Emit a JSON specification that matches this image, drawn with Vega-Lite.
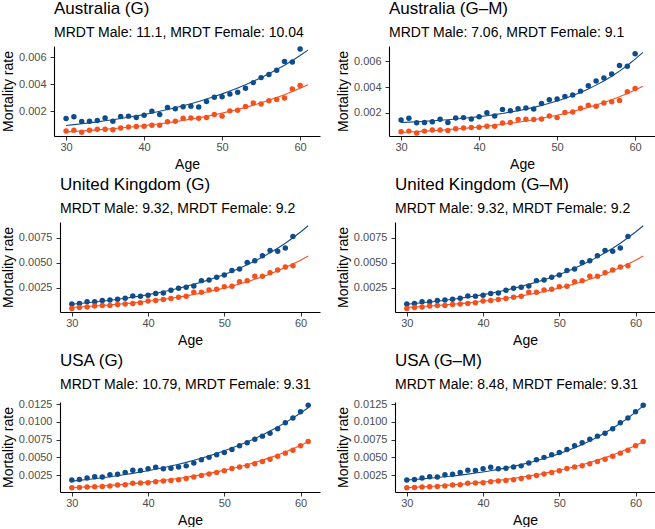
{
"$schema": "https://vega.github.io/schema/vega-lite/v6.json",
"padding": {"left": 1, "top": 0, "right": 0, "bottom": 0},
"background": "white",
"config": {
  "font": "Liberation Sans",
  "view": {"stroke": null},
  "axis": {"grid": false, "labelOverlap": false, "domainColor": "#000000", "domainWidth": 1.1, "tickColor": "#333333", "tickSize": 4, "tickWidth": 1, "labelColor": "#4D4D4D", "labelFontSize": 11, "titleFontSize": 14, "titleFontWeight": "normal", "titleColor": "#000000"},
  "axisX": {"labelPadding": 1, "titlePadding": 5},
  "axisY": {"labelPadding": 4, "titlePadding": 3, "tickCount": 10},
  "title": {"anchor": "start", "frame": "group", "fontSize": 17, "fontWeight": "normal", "color": "#000000", "subtitleFontSize": 14, "subtitleColor": "#000000", "subtitlePadding": 8, "offset": 5}
},
"datasets": {
  "obs": [
    {"c":"AUS","age":30,"Male":0.00145,"Female":0.00053},
    {"c":"AUS","age":31,"Male":0.00158,"Female":0.00058},
    {"c":"AUS","age":32,"Male":0.00123,"Female":0.00044},
    {"c":"AUS","age":33,"Male":0.00125,"Female":0.00058},
    {"c":"AUS","age":34,"Male":0.00130,"Female":0.00066},
    {"c":"AUS","age":35,"Male":0.00150,"Female":0.00066},
    {"c":"AUS","age":36,"Male":0.00125,"Female":0.00063},
    {"c":"AUS","age":37,"Male":0.00160,"Female":0.00076},
    {"c":"AUS","age":38,"Male":0.00163,"Female":0.00083},
    {"c":"AUS","age":39,"Male":0.00153,"Female":0.00086},
    {"c":"AUS","age":40,"Male":0.00170,"Female":0.00088},
    {"c":"AUS","age":41,"Male":0.00200,"Female":0.00096},
    {"c":"AUS","age":42,"Male":0.00175,"Female":0.00096},
    {"c":"AUS","age":43,"Male":0.00227,"Female":0.00121},
    {"c":"AUS","age":44,"Male":0.00217,"Female":0.00125},
    {"c":"AUS","age":45,"Male":0.00232,"Female":0.00148},
    {"c":"AUS","age":46,"Male":0.00237,"Female":0.00150},
    {"c":"AUS","age":47,"Male":0.00230,"Female":0.00148},
    {"c":"AUS","age":48,"Male":0.00272,"Female":0.00153},
    {"c":"AUS","age":49,"Male":0.00302,"Female":0.00175},
    {"c":"AUS","age":50,"Male":0.00307,"Female":0.00163},
    {"c":"AUS","age":51,"Male":0.00327,"Female":0.00202},
    {"c":"AUS","age":52,"Male":0.00339,"Female":0.00207},
    {"c":"AUS","age":53,"Male":0.00369,"Female":0.00235},
    {"c":"AUS","age":54,"Male":0.00411,"Female":0.00260},
    {"c":"AUS","age":55,"Male":0.00448,"Female":0.00252},
    {"c":"AUS","age":56,"Male":0.00471,"Female":0.00277},
    {"c":"AUS","age":57,"Male":0.00503,"Female":0.00287},
    {"c":"AUS","age":58,"Male":0.00568,"Female":0.00297},
    {"c":"AUS","age":59,"Male":0.00563,"Female":0.00364},
    {"c":"AUS","age":60,"Male":0.00660,"Female":0.00389},
    {"c":"UK","age":30,"Male":0.00088,"Female":0.00045},
    {"c":"UK","age":31,"Male":0.00094,"Female":0.00055},
    {"c":"UK","age":32,"Male":0.00111,"Female":0.00058},
    {"c":"UK","age":33,"Male":0.00111,"Female":0.00068},
    {"c":"UK","age":34,"Male":0.00124,"Female":0.00075},
    {"c":"UK","age":35,"Male":0.00128,"Female":0.00075},
    {"c":"UK","age":36,"Male":0.00137,"Female":0.00084},
    {"c":"UK","age":37,"Male":0.00147,"Female":0.00088},
    {"c":"UK","age":38,"Male":0.00170,"Female":0.00094},
    {"c":"UK","age":39,"Male":0.00167,"Female":0.00101},
    {"c":"UK","age":40,"Male":0.00177,"Female":0.00118},
    {"c":"UK","age":41,"Male":0.00194,"Female":0.00124},
    {"c":"UK","age":42,"Male":0.00200,"Female":0.00134},
    {"c":"UK","age":43,"Male":0.00227,"Female":0.00144},
    {"c":"UK","age":44,"Male":0.00247,"Female":0.00157},
    {"c":"UK","age":45,"Male":0.00257,"Female":0.00167},
    {"c":"UK","age":46,"Male":0.00270,"Female":0.00207},
    {"c":"UK","age":47,"Male":0.00323,"Female":0.00207},
    {"c":"UK","age":48,"Male":0.00329,"Female":0.00230},
    {"c":"UK","age":49,"Male":0.00356,"Female":0.00237},
    {"c":"UK","age":50,"Male":0.00379,"Female":0.00263},
    {"c":"UK","age":51,"Male":0.00425,"Female":0.00267},
    {"c":"UK","age":52,"Male":0.00439,"Female":0.00313},
    {"c":"UK","age":53,"Male":0.00505,"Female":0.00323},
    {"c":"UK","age":54,"Male":0.00521,"Female":0.00366},
    {"c":"UK","age":55,"Male":0.00571,"Female":0.00366},
    {"c":"UK","age":56,"Male":0.00624,"Female":0.00402},
    {"c":"UK","age":57,"Male":0.00617,"Female":0.00429},
    {"c":"UK","age":58,"Male":0.00650,"Female":0.00459},
    {"c":"UK","age":59,"Male":0.00766,"Female":0.00472},
    {"c":"USA","age":30,"Male":0.00180,"Female":0.00072},
    {"c":"USA","age":31,"Male":0.00188,"Female":0.00076},
    {"c":"USA","age":32,"Male":0.00210,"Female":0.00081},
    {"c":"USA","age":33,"Male":0.00226,"Female":0.00086},
    {"c":"USA","age":34,"Male":0.00222,"Female":0.00090},
    {"c":"USA","age":35,"Male":0.00255,"Female":0.00095},
    {"c":"USA","age":36,"Male":0.00262,"Female":0.00109},
    {"c":"USA","age":37,"Male":0.00288,"Female":0.00114},
    {"c":"USA","age":38,"Male":0.00318,"Female":0.00133},
    {"c":"USA","age":39,"Male":0.00316,"Female":0.00137},
    {"c":"USA","age":40,"Male":0.00340,"Female":0.00142},
    {"c":"USA","age":41,"Male":0.00362,"Female":0.00156},
    {"c":"USA","age":42,"Male":0.00340,"Female":0.00166},
    {"c":"USA","age":43,"Male":0.00345,"Female":0.00175},
    {"c":"USA","age":44,"Male":0.00365,"Female":0.00184},
    {"c":"USA","age":45,"Male":0.00380,"Female":0.00203},
    {"c":"USA","age":46,"Male":0.00420,"Female":0.00222},
    {"c":"USA","age":47,"Male":0.00465,"Female":0.00245},
    {"c":"USA","age":48,"Male":0.00500,"Female":0.00264},
    {"c":"USA","age":49,"Male":0.00536,"Female":0.00288},
    {"c":"USA","age":50,"Male":0.00570,"Female":0.00311},
    {"c":"USA","age":51,"Male":0.00610,"Female":0.00344},
    {"c":"USA","age":52,"Male":0.00665,"Female":0.00363},
    {"c":"USA","age":53,"Male":0.00705,"Female":0.00381},
    {"c":"USA","age":54,"Male":0.00755,"Female":0.00410},
    {"c":"USA","age":55,"Male":0.00800,"Female":0.00442},
    {"c":"USA","age":56,"Male":0.00840,"Female":0.00475},
    {"c":"USA","age":57,"Male":0.00905,"Female":0.00517},
    {"c":"USA","age":58,"Male":0.00990,"Female":0.00560},
    {"c":"USA","age":59,"Male":0.01055,"Female":0.00602},
    {"c":"USA","age":60,"Male":0.01145,"Female":0.00663},
    {"c":"USA","age":61,"Male":0.01235,"Female":0.00724}
  ],
  "fit": [
    {"c":"AUS","age":30,"mG":0.000940,"fG":0.000466,"mGM":0.001250,"fGM":0.000480},
    {"c":"AUS","age":31,"mG":0.001001,"fG":0.000499,"mGM":0.001278,"fGM":0.000510},
    {"c":"AUS","age":32,"mG":0.001065,"fG":0.000535,"mGM":0.001309,"fGM":0.000541},
    {"c":"AUS","age":33,"mG":0.001134,"fG":0.000573,"mGM":0.001344,"fGM":0.000576},
    {"c":"AUS","age":34,"mG":0.001207,"fG":0.000614,"mGM":0.001381,"fGM":0.000613},
    {"c":"AUS","age":35,"mG":0.001285,"fG":0.000658,"mGM":0.001423,"fGM":0.000653},
    {"c":"AUS","age":36,"mG":0.001367,"fG":0.000705,"mGM":0.001469,"fGM":0.000696},
    {"c":"AUS","age":37,"mG":0.001455,"fG":0.000755,"mGM":0.001520,"fGM":0.000742},
    {"c":"AUS","age":38,"mG":0.001549,"fG":0.000809,"mGM":0.001576,"fGM":0.000793},
    {"c":"AUS","age":39,"mG":0.001649,"fG":0.000867,"mGM":0.001638,"fGM":0.000847},
    {"c":"AUS","age":40,"mG":0.001755,"fG":0.000929,"mGM":0.001706,"fGM":0.000905},
    {"c":"AUS","age":41,"mG":0.001868,"fG":0.000995,"mGM":0.001781,"fGM":0.000969},
    {"c":"AUS","age":42,"mG":0.001989,"fG":0.001067,"mGM":0.001864,"fGM":0.001037},
    {"c":"AUS","age":43,"mG":0.002117,"fG":0.001143,"mGM":0.001956,"fGM":0.001110},
    {"c":"AUS","age":44,"mG":0.002253,"fG":0.001224,"mGM":0.002057,"fGM":0.001190},
    {"c":"AUS","age":45,"mG":0.002399,"fG":0.001312,"mGM":0.002168,"fGM":0.001275},
    {"c":"AUS","age":46,"mG":0.002553,"fG":0.001406,"mGM":0.002291,"fGM":0.001368},
    {"c":"AUS","age":47,"mG":0.002718,"fG":0.001506,"mGM":0.002426,"fGM":0.001468},
    {"c":"AUS","age":48,"mG":0.002893,"fG":0.001614,"mGM":0.002576,"fGM":0.001576},
    {"c":"AUS","age":49,"mG":0.003079,"fG":0.001729,"mGM":0.002741,"fGM":0.001692},
    {"c":"AUS","age":50,"mG":0.003278,"fG":0.001852,"mGM":0.002923,"fGM":0.001817},
    {"c":"AUS","age":51,"mG":0.003489,"fG":0.001985,"mGM":0.003124,"fGM":0.001953},
    {"c":"AUS","age":52,"mG":0.003714,"fG":0.002126,"mGM":0.003345,"fGM":0.002099},
    {"c":"AUS","age":53,"mG":0.003953,"fG":0.002278,"mGM":0.003590,"fGM":0.002257},
    {"c":"AUS","age":54,"mG":0.004208,"fG":0.002441,"mGM":0.003859,"fGM":0.002427},
    {"c":"AUS","age":55,"mG":0.004479,"fG":0.002616,"mGM":0.004157,"fGM":0.002611},
    {"c":"AUS","age":56,"mG":0.004768,"fG":0.002802,"mGM":0.004485,"fGM":0.002809},
    {"c":"AUS","age":57,"mG":0.005075,"fG":0.003003,"mGM":0.004847,"fGM":0.003023},
    {"c":"AUS","age":58,"mG":0.005402,"fG":0.003217,"mGM":0.005246,"fGM":0.003254},
    {"c":"AUS","age":59,"mG":0.005751,"fG":0.003447,"mGM":0.005687,"fGM":0.003503},
    {"c":"AUS","age":60,"mG":0.006121,"fG":0.003693,"mGM":0.006173,"fGM":0.003772},
    {"c":"AUS","age":61,"mG":0.006516,"fG":0.003957,"mGM":0.006709,"fGM":0.004062},
    {"c":"UK","age":30,"mG":0.000870,"fG":0.000550,"mGM":0.000870,"fGM":0.000550},
    {"c":"UK","age":31,"mG":0.000937,"fG":0.000593,"mGM":0.000937,"fGM":0.000593},
    {"c":"UK","age":32,"mG":0.001010,"fG":0.000639,"mGM":0.001010,"fGM":0.000639},
    {"c":"UK","age":33,"mG":0.001088,"fG":0.000690,"mGM":0.001088,"fGM":0.000690},
    {"c":"UK","age":34,"mG":0.001171,"fG":0.000744,"mGM":0.001171,"fGM":0.000744},
    {"c":"UK","age":35,"mG":0.001262,"fG":0.000802,"mGM":0.001262,"fGM":0.000802},
    {"c":"UK","age":36,"mG":0.001359,"fG":0.000865,"mGM":0.001359,"fGM":0.000865},
    {"c":"UK","age":37,"mG":0.001464,"fG":0.000932,"mGM":0.001464,"fGM":0.000932},
    {"c":"UK","age":38,"mG":0.001577,"fG":0.001005,"mGM":0.001577,"fGM":0.001005},
    {"c":"UK","age":39,"mG":0.001699,"fG":0.001084,"mGM":0.001699,"fGM":0.001084},
    {"c":"UK","age":40,"mG":0.001830,"fG":0.001169,"mGM":0.001830,"fGM":0.001169},
    {"c":"UK","age":41,"mG":0.001972,"fG":0.001260,"mGM":0.001972,"fGM":0.001260},
    {"c":"UK","age":42,"mG":0.002124,"fG":0.001359,"mGM":0.002124,"fGM":0.001359},
    {"c":"UK","age":43,"mG":0.002288,"fG":0.001466,"mGM":0.002288,"fGM":0.001466},
    {"c":"UK","age":44,"mG":0.002464,"fG":0.001580,"mGM":0.002464,"fGM":0.001580},
    {"c":"UK","age":45,"mG":0.002655,"fG":0.001704,"mGM":0.002655,"fGM":0.001704},
    {"c":"UK","age":46,"mG":0.002860,"fG":0.001838,"mGM":0.002860,"fGM":0.001838},
    {"c":"UK","age":47,"mG":0.003080,"fG":0.001981,"mGM":0.003080,"fGM":0.001981},
    {"c":"UK","age":48,"mG":0.003318,"fG":0.002137,"mGM":0.003318,"fGM":0.002137},
    {"c":"UK","age":49,"mG":0.003574,"fG":0.002304,"mGM":0.003574,"fGM":0.002304},
    {"c":"UK","age":50,"mG":0.003850,"fG":0.002484,"mGM":0.003850,"fGM":0.002484},
    {"c":"UK","age":51,"mG":0.004148,"fG":0.002679,"mGM":0.004148,"fGM":0.002679},
    {"c":"UK","age":52,"mG":0.004468,"fG":0.002889,"mGM":0.004468,"fGM":0.002889},
    {"c":"UK","age":53,"mG":0.004813,"fG":0.003115,"mGM":0.004813,"fGM":0.003115},
    {"c":"UK","age":54,"mG":0.005184,"fG":0.003359,"mGM":0.005184,"fGM":0.003359},
    {"c":"UK","age":55,"mG":0.005585,"fG":0.003622,"mGM":0.005585,"fGM":0.003622},
    {"c":"UK","age":56,"mG":0.006016,"fG":0.003905,"mGM":0.006016,"fGM":0.003905},
    {"c":"UK","age":57,"mG":0.006480,"fG":0.004211,"mGM":0.006480,"fGM":0.004211},
    {"c":"UK","age":58,"mG":0.006980,"fG":0.004541,"mGM":0.006980,"fGM":0.004541},
    {"c":"UK","age":59,"mG":0.007519,"fG":0.004896,"mGM":0.007519,"fGM":0.004896},
    {"c":"UK","age":60,"mG":0.008100,"fG":0.005280,"mGM":0.008100,"fGM":0.005280},
    {"c":"UK","age":61,"mG":0.008725,"fG":0.005693,"mGM":0.008725,"fGM":0.005693},
    {"c":"USA","age":30,"mG":0.001640,"fG":0.000716,"mGM":0.001800,"fGM":0.000716},
    {"c":"USA","age":31,"mG":0.001749,"fG":0.000771,"mGM":0.001877,"fGM":0.000771},
    {"c":"USA","age":32,"mG":0.001865,"fG":0.000831,"mGM":0.001961,"fGM":0.000831},
    {"c":"USA","age":33,"mG":0.001989,"fG":0.000895,"mGM":0.002051,"fGM":0.000895},
    {"c":"USA","age":34,"mG":0.002120,"fG":0.000964,"mGM":0.002150,"fGM":0.000964},
    {"c":"USA","age":35,"mG":0.002261,"fG":0.001039,"mGM":0.002257,"fGM":0.001039},
    {"c":"USA","age":36,"mG":0.002411,"fG":0.001119,"mGM":0.002372,"fGM":0.001119},
    {"c":"USA","age":37,"mG":0.002571,"fG":0.001206,"mGM":0.002498,"fGM":0.001206},
    {"c":"USA","age":38,"mG":0.002742,"fG":0.001299,"mGM":0.002635,"fGM":0.001299},
    {"c":"USA","age":39,"mG":0.002923,"fG":0.001400,"mGM":0.002783,"fGM":0.001400},
    {"c":"USA","age":40,"mG":0.003117,"fG":0.001508,"mGM":0.002943,"fGM":0.001508},
    {"c":"USA","age":41,"mG":0.003324,"fG":0.001624,"mGM":0.003118,"fGM":0.001624},
    {"c":"USA","age":42,"mG":0.003545,"fG":0.001750,"mGM":0.003307,"fGM":0.001750},
    {"c":"USA","age":43,"mG":0.003780,"fG":0.001885,"mGM":0.003512,"fGM":0.001885},
    {"c":"USA","age":44,"mG":0.004031,"fG":0.002031,"mGM":0.003735,"fGM":0.002031},
    {"c":"USA","age":45,"mG":0.004298,"fG":0.002188,"mGM":0.003977,"fGM":0.002188},
    {"c":"USA","age":46,"mG":0.004583,"fG":0.002357,"mGM":0.004239,"fGM":0.002357},
    {"c":"USA","age":47,"mG":0.004888,"fG":0.002539,"mGM":0.004524,"fGM":0.002539},
    {"c":"USA","age":48,"mG":0.005212,"fG":0.002736,"mGM":0.004833,"fGM":0.002736},
    {"c":"USA","age":49,"mG":0.005558,"fG":0.002947,"mGM":0.005168,"fGM":0.002947},
    {"c":"USA","age":50,"mG":0.005927,"fG":0.003175,"mGM":0.005531,"fGM":0.003175},
    {"c":"USA","age":51,"mG":0.006320,"fG":0.003421,"mGM":0.005926,"fGM":0.003421},
    {"c":"USA","age":52,"mG":0.006739,"fG":0.003685,"mGM":0.006354,"fGM":0.003685},
    {"c":"USA","age":53,"mG":0.007186,"fG":0.003970,"mGM":0.006819,"fGM":0.003970},
    {"c":"USA","age":54,"mG":0.007663,"fG":0.004277,"mGM":0.007323,"fGM":0.004277},
    {"c":"USA","age":55,"mG":0.008171,"fG":0.004608,"mGM":0.007870,"fGM":0.004608},
    {"c":"USA","age":56,"mG":0.008713,"fG":0.004964,"mGM":0.008464,"fGM":0.004964},
    {"c":"USA","age":57,"mG":0.009292,"fG":0.005348,"mGM":0.009108,"fGM":0.005348},
    {"c":"USA","age":58,"mG":0.009908,"fG":0.005761,"mGM":0.009807,"fGM":0.005761},
    {"c":"USA","age":59,"mG":0.010565,"fG":0.006207,"mGM":0.010566,"fGM":0.006207},
    {"c":"USA","age":60,"mG":0.011266,"fG":0.006686,"mGM":0.011389,"fGM":0.006686},
    {"c":"USA","age":61,"mG":0.012014,"fG":0.007203,"mGM":0.012283,"fGM":0.007203}
  ]
},
"columns": 2,
"spacing": {"row": 5, "column": 16},
"align": {"row": "each", "column": "none"},
"resolve": {"scale": {"x": "independent", "y": "independent", "color": "shared"}},
"concat": [
    {"width": 266, "height": 90,
     "title": {"text": "Australia (G)", "subtitle": "MRDT Male: 11.1, MRDT Female: 10.04"},
     "layer": [
      {"data": {"name": "fit"}, "transform": [{"filter": "datum.c == 'AUS'"}, {"fold": ["mG", "fG"], "as": ["s", "v"]}],
       "mark": {"type": "line", "strokeWidth": 1.1},
       "encoding": {
        "x": {"field": "age", "type": "quantitative", "scale": {"domain": [28.45, 62.55], "nice": false, "zero": false}, "axis": {"values": [30, 40, 50, 60], "title": "Age"}},
        "y": {"field": "v", "type": "quantitative", "scale": {"domain": [0.00016, 0.00682], "nice": false, "zero": false}, "axis": {"values": [0.002, 0.004, 0.006], "format": ".3f", "minExtent": 36, "maxExtent": 36, "title": "Mortality rate"}},
        "color": {"field": "s", "type": "nominal", "scale": {"domain": ["Male", "Female", "mG", "fG", "mGM", "fGM"], "range": ["#0F4C8A", "#F4511E", "#0F4C8A", "#F4511E", "#0F4C8A", "#F4511E"]}, "legend": null}}},
      {"data": {"name": "obs"}, "transform": [{"filter": "datum.c == 'AUS'"}, {"fold": ["Male", "Female"], "as": ["s", "v"]}],
       "mark": {"type": "circle", "size": 30, "opacity": 1},
       "encoding": {
        "x": {"field": "age", "type": "quantitative"},
        "y": {"field": "v", "type": "quantitative"},
        "color": {"field": "s", "type": "nominal"}}}
     ]},
    {"width": 266, "height": 90,
     "title": {"text": "Australia (G–M)", "subtitle": "MRDT Male: 7.06, MRDT Female: 9.1"},
     "layer": [
      {"data": {"name": "fit"}, "transform": [{"filter": "datum.c == 'AUS'"}, {"fold": ["mGM", "fGM"], "as": ["s", "v"]}],
       "mark": {"type": "line", "strokeWidth": 1.1},
       "encoding": {
        "x": {"field": "age", "type": "quantitative", "scale": {"domain": [28.45, 62.55], "nice": false, "zero": false}, "axis": {"values": [30, 40, 50, 60], "title": "Age"}},
        "y": {"field": "v", "type": "quantitative", "scale": {"domain": [0.0002, 0.0072], "nice": false, "zero": false}, "axis": {"values": [0.002, 0.004, 0.006], "format": ".3f", "minExtent": 36, "maxExtent": 36, "title": "Mortality rate"}},
        "color": {"field": "s", "type": "nominal", "legend": null}}},
      {"data": {"name": "obs"}, "transform": [{"filter": "datum.c == 'AUS'"}, {"fold": ["Male", "Female"], "as": ["s", "v"]}],
       "mark": {"type": "circle", "size": 30, "opacity": 1},
       "encoding": {
        "x": {"field": "age", "type": "quantitative"},
        "y": {"field": "v", "type": "quantitative"},
        "color": {"field": "s", "type": "nominal"}}}
     ]},
    {"width": 266, "height": 90,
     "title": {"text": "United Kingdom (G)", "subtitle": "MRDT Male: 9.32, MRDT Female: 9.2", "dx": 6},
     "layer": [
      {"data": {"name": "fit"}, "transform": [{"filter": "datum.c == 'UK'"}, {"fold": ["mG", "fG"], "as": ["s", "v"]}],
       "mark": {"type": "line", "strokeWidth": 1.1},
       "encoding": {
        "x": {"field": "age", "type": "quantitative", "scale": {"domain": [28.45, 62.55], "range": [6, 266], "nice": false, "zero": false}, "axis": {"values": [30, 40, 50, 60], "title": "Age"}},
        "y": {"field": "v", "type": "quantitative", "scale": {"domain": [0.00009, 0.0091], "nice": false, "zero": false}, "axis": {"values": [0.0025, 0.005, 0.0075], "format": ".4f", "minExtent": 42, "maxExtent": 42, "offset": -6, "title": "Mortality rate"}},
        "color": {"field": "s", "type": "nominal", "legend": null}}},
      {"data": {"name": "obs"}, "transform": [{"filter": "datum.c == 'UK'"}, {"fold": ["Male", "Female"], "as": ["s", "v"]}],
       "mark": {"type": "circle", "size": 30, "opacity": 1},
       "encoding": {
        "x": {"field": "age", "type": "quantitative"},
        "y": {"field": "v", "type": "quantitative"},
        "color": {"field": "s", "type": "nominal"}}}
     ]},
    {"width": 266, "height": 90,
     "title": {"text": "United Kingdom (G–M)", "subtitle": "MRDT Male: 9.32, MRDT Female: 9.2", "dx": 6},
     "layer": [
      {"data": {"name": "fit"}, "transform": [{"filter": "datum.c == 'UK'"}, {"fold": ["mGM", "fGM"], "as": ["s", "v"]}],
       "mark": {"type": "line", "strokeWidth": 1.1},
       "encoding": {
        "x": {"field": "age", "type": "quantitative", "scale": {"domain": [28.45, 62.55], "range": [6, 266], "nice": false, "zero": false}, "axis": {"values": [30, 40, 50, 60], "title": "Age"}},
        "y": {"field": "v", "type": "quantitative", "scale": {"domain": [0.00009, 0.0091], "nice": false, "zero": false}, "axis": {"values": [0.0025, 0.005, 0.0075], "format": ".4f", "minExtent": 42, "maxExtent": 42, "offset": -6, "title": "Mortality rate"}},
        "color": {"field": "s", "type": "nominal", "legend": null}}},
      {"data": {"name": "obs"}, "transform": [{"filter": "datum.c == 'UK'"}, {"fold": ["Male", "Female"], "as": ["s", "v"]}],
       "mark": {"type": "circle", "size": 30, "opacity": 1},
       "encoding": {
        "x": {"field": "age", "type": "quantitative"},
        "y": {"field": "v", "type": "quantitative"},
        "color": {"field": "s", "type": "nominal"}}}
     ]},
    {"width": 266, "height": 90,
     "title": {"text": "USA (G)", "subtitle": "MRDT Male: 10.79, MRDT Female: 9.31", "dx": 6},
     "layer": [
      {"data": {"name": "fit"}, "transform": [{"filter": "datum.c == 'USA'"}, {"fold": ["mG", "fG"], "as": ["s", "v"]}],
       "mark": {"type": "line", "strokeWidth": 1.1},
       "encoding": {
        "x": {"field": "age", "type": "quantitative", "scale": {"domain": [28.45, 62.55], "range": [6, 266], "nice": false, "zero": false}, "axis": {"values": [30, 40, 50, 60], "title": "Age"}},
        "y": {"field": "v", "type": "quantitative", "scale": {"domain": [0.00011, 0.01282], "nice": false, "zero": false}, "axis": {"values": [0.0025, 0.005, 0.0075, 0.01, 0.0125], "format": ".4f", "minExtent": 42, "maxExtent": 42, "offset": -6, "title": "Mortality rate"}},
        "color": {"field": "s", "type": "nominal", "legend": null}}},
      {"data": {"name": "obs"}, "transform": [{"filter": "datum.c == 'USA'"}, {"fold": ["Male", "Female"], "as": ["s", "v"]}],
       "mark": {"type": "circle", "size": 30, "opacity": 1},
       "encoding": {
        "x": {"field": "age", "type": "quantitative"},
        "y": {"field": "v", "type": "quantitative"},
        "color": {"field": "s", "type": "nominal"}}}
     ]},
    {"width": 266, "height": 90,
     "title": {"text": "USA (G–M)", "subtitle": "MRDT Male: 8.48, MRDT Female: 9.31", "dx": 6},
     "layer": [
      {"data": {"name": "fit"}, "transform": [{"filter": "datum.c == 'USA'"}, {"fold": ["mGM", "fGM"], "as": ["s", "v"]}],
       "mark": {"type": "line", "strokeWidth": 1.1},
       "encoding": {
        "x": {"field": "age", "type": "quantitative", "scale": {"domain": [28.45, 62.55], "range": [6, 266], "nice": false, "zero": false}, "axis": {"values": [30, 40, 50, 60], "title": "Age"}},
        "y": {"field": "v", "type": "quantitative", "scale": {"domain": [0.00011, 0.01282], "nice": false, "zero": false}, "axis": {"values": [0.0025, 0.005, 0.0075, 0.01, 0.0125], "format": ".4f", "minExtent": 42, "maxExtent": 42, "offset": -6, "title": "Mortality rate"}},
        "color": {"field": "s", "type": "nominal", "legend": null}}},
      {"data": {"name": "obs"}, "transform": [{"filter": "datum.c == 'USA'"}, {"fold": ["Male", "Female"], "as": ["s", "v"]}],
       "mark": {"type": "circle", "size": 30, "opacity": 1},
       "encoding": {
        "x": {"field": "age", "type": "quantitative"},
        "y": {"field": "v", "type": "quantitative"},
        "color": {"field": "s", "type": "nominal"}}}
     ]}
]
}
